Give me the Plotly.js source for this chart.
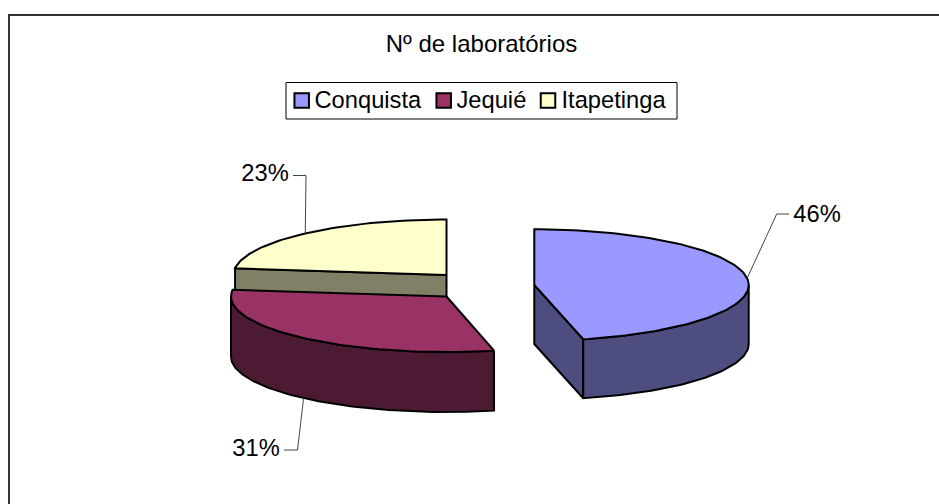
<!DOCTYPE html>
<html><head><meta charset="utf-8">
<script src="https://cdn.plot.ly/plotly-3.0.1.min.js"></script>
<style>html,body{margin:0;padding:0;background:#fff}#c{width:939px;height:504px}</style>
</head><body><div id="c"></div>
<script>
const chartTitle = 'Nº de laboratórios';
const categories = ['Conquista', 'Jequié', 'Itapetinga'];
const labCounts = [6, 4, 3];
const topColors = ['#9999FF', '#993366', '#FFFFCC'];
const sideColors = ['#4D4D80', '#4D1A33', '#808066'];
// Projection of each exploded slice: apex position in the pixel-scaled axes, radii, wall depth.
const apexX = [534.3, 446.5, 446.5];
const apexY = [285, 296.5, 275];
const radiusX = [214.4, 215.5, 213];
const radiusY = [55.7, 55.5, 55.5];
const wallDepth = [59, 60, 59];
const frontNudgeEnd = [0.65, 0, 0];    // foreshortening of the front corner, degrees
const frontNudgeStart = [0, 1.1, 0];
const labelX = [817, 256, 265];
const labelY = [216, 450, 175];
const elbowX = [776.7, 297.5, 306];
const elbowY = [214, 450, 175.5];
const stubX = [789, 284, 293];
const legendMarkerX = [301.7, 443.7, 548];
const legendMarkerY = [100.5, 100.5, 100.5];
const legendTextX = [314.5, 456.5, 561.5];
const legendTextY = [102, 102, 102];

const total = labCounts.reduce((a, b) => a + b, 0);
let acc = 0;
const starts = [], ends = [];
labCounts.forEach(v => { starts.push(acc); acc += v / total * 360; ends.push(acc); });
const rad = d => d * Math.PI / 180;
const px = (i, a) => apexX[i] + radiusX[i] * Math.sin(rad(a));
const py = (i, a) => apexY[i] - radiusY[i] * Math.cos(rad(a));
function arc(i, a0, a1) {
  const n = Math.max(2, Math.ceil(Math.abs(a1 - a0) / 1.5));
  const xs = [], ys = [];
  for (let k = 0; k <= n; k++) { const a = a0 + (a1 - a0) * k / n; xs.push(px(i, a)); ys.push(py(i, a)); }
  return {x: xs, y: ys};
}
function poly(x, y, fill) {
  return {type: 'scatter', mode: 'lines', x: x.concat([x[0]]), y: y.concat([y[0]]), fill: 'toself',
    fillcolor: fill, line: {color: '#000', width: 2, shape: 'linear'}, hoverinfo: 'skip', showlegend: false};
}
const startOf = i => starts[i] + frontNudgeStart[i];
const endOf = i => ends[i] + frontNudgeEnd[i];
function topFace(i) {
  const c = arc(i, startOf(i), endOf(i));
  return poly([apexX[i]].concat(c.x), [apexY[i]].concat(c.y), topColors[i]);
}
function outerWall(i, a0, a1) {
  const c = arc(i, a0, a1);
  const d = wallDepth[i];
  return poly(c.x.concat(c.x.slice().reverse()),
    c.y.concat(c.y.slice().reverse().map(v => v + d)), sideColors[i]);
}
function radialWall(i, a) {
  const d = wallDepth[i], x1 = px(i, a), y1 = py(i, a);
  return poly([apexX[i], x1, x1, apexX[i]], [apexY[i], y1, y1 + d, apexY[i] + d], sideColors[i]);
}
function leader(i, anchorY) {
  const mid = (starts[i] + ends[i]) / 2;
  return {type: 'scatter', mode: 'lines', x: [stubX[i], elbowX[i], px(i, mid)], y: [elbowY[i], elbowY[i], anchorY],
    line: {color: '#444', width: 1}, hoverinfo: 'skip', showlegend: false};
}
const traces = [
  radialWall(2, starts[2]),
  topFace(2),
  outerWall(1, startOf(1), 270),
  topFace(1),
  radialWall(0, endOf(0)),
  outerWall(0, 90, endOf(0)),
  topFace(0),
];
traces.push(leader(0, py(0, (starts[0] + ends[0]) / 2)));
traces.push(leader(1, py(1, (starts[1] + ends[1]) / 2) + wallDepth[1]));
traces.push(leader(2, py(2, (starts[2] + ends[2]) / 2)));
traces.push({type: 'scatter', mode: 'text', x: labelX, y: labelY,
  text: labCounts.map(v => Math.round(v / total * 100) + '%'),
  textposition: 'middle center', textfont: {family: 'Liberation Sans, Arial', size: 23.7, color: '#000'},
  hoverinfo: 'skip', showlegend: false});
traces.push({type: 'scatter', mode: 'markers', x: legendMarkerX, y: legendMarkerY, hoverinfo: 'skip', showlegend: false,
  marker: {symbol: 'square', size: 14.5, color: topColors, line: {color: '#000', width: 2}}});
traces.push({type: 'scatter', mode: 'text', x: legendTextX, y: legendTextY, text: categories, textposition: 'middle right',
  textfont: {family: 'Liberation Sans, Arial', size: 23.7, color: '#000'}, hoverinfo: 'skip', showlegend: false});

const layout = {
  width: 939, height: 504, margin: {l: 0, r: 0, t: 0, b: 0}, paper_bgcolor: '#fff', plot_bgcolor: '#fff',
  showlegend: false,
  title: {text: chartTitle, x: 481.5 / 939, xanchor: 'center', y: 1 - 44 / 504, yanchor: 'middle', yref: 'container',
    font: {family: 'Liberation Sans, Arial', size: 24, color: '#000'}},
  xaxis: {range: [0, 939], visible: false, fixedrange: true},
  yaxis: {range: [504, 0], visible: false, fixedrange: true},
  shapes: [
    {type: 'path', xref: 'x', yref: 'y', layer: 'below', path: 'M 9 504 L 9 15 L 939 15', line: {color: '#333', width: 2}},
    {type: 'rect', xref: 'x', yref: 'y', layer: 'below', x0: 286, x1: 677, y0: 82.5, y1: 119, line: {color: '#000', width: 1}, fillcolor: '#fff'}
  ]
};
Plotly.newPlot('c', traces, layout, {displayModeBar: false, staticPlot: true});
</script></body></html>
